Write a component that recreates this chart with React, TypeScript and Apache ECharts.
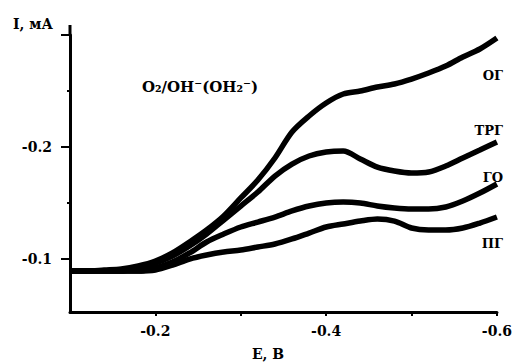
import React, { useEffect, useRef } from "react";
import * as echarts from "echarts";

// Potential E, V
const potentials = [
  -0.1, -0.12, -0.14, -0.16, -0.18, -0.2, -0.22, -0.24, -0.26, -0.28, -0.3, -0.32, -0.34,
  -0.36, -0.38, -0.4, -0.42, -0.44, -0.46, -0.48, -0.5, -0.52, -0.54, -0.56, -0.58, -0.6,
];
// Current I, mA
const seriesOG = [
  -0.0893, -0.0893, -0.0902, -0.0911, -0.0938, -0.0982, -0.1054, -0.1152, -0.1259, -0.1384,
  -0.1545, -0.1705, -0.1902, -0.2134, -0.2277, -0.2393, -0.2473, -0.25, -0.2536, -0.2563,
  -0.2607, -0.2661, -0.2723, -0.2804, -0.2875, -0.2973,
];
const seriesTRG = [
  -0.0893, -0.0893, -0.0893, -0.0893, -0.0929, -0.0964, -0.1027, -0.1116, -0.1223, -0.1348,
  -0.1473, -0.1598, -0.1741, -0.1848, -0.192, -0.1955, -0.1964, -0.1893, -0.1821, -0.1786,
  -0.1768, -0.1777, -0.183, -0.1902, -0.1973, -0.2045,
];
const seriesGO = [
  -0.0893, -0.0893, -0.0893, -0.0893, -0.0893, -0.092, -0.0973, -0.1054, -0.1152, -0.1223,
  -0.1286, -0.133, -0.1375, -0.1429, -0.1473, -0.15, -0.1509, -0.15, -0.1473, -0.1455,
  -0.1446, -0.1446, -0.1464, -0.1518, -0.1589, -0.167,
];
const seriesPG = [
  -0.0893, -0.0893, -0.0893, -0.0893, -0.0893, -0.0902, -0.0946, -0.1, -0.1036, -0.1063,
  -0.108, -0.1107, -0.1134, -0.1179, -0.1232, -0.1286, -0.1313, -0.1339, -0.1357, -0.1339,
  -0.1277, -0.1259, -0.1259, -0.1277, -0.1321, -0.1375,
];
const seriesNames = ["ОГ", "ТРГ", "ГО", "ПГ"];

const xTicks = [-0.2, -0.3, -0.4, -0.5, -0.6];
const xTickLabels = [-0.2, -0.4, -0.6];
const yMajorTicks = [-0.3, -0.2, -0.1];
const yMinorTicks = [-0.25, -0.15];
const yTickLabels = [-0.2, -0.1];

const X_MIN = -0.6;
const X_MAX = -0.1;
const Y_MIN = -0.3;
const Y_MAX = -0.0527;

const FONT = "DejaVu Serif";

export default function App() {
  const ref = useRef<HTMLDivElement>(null);

  useEffect(() => {
    if (!ref.current) return;
    const chart = echarts.init(ref.current, null, { renderer: "svg" });
    const all = [seriesOG, seriesTRG, seriesGO, seriesPG];
    const axisLine = { show: true, lineStyle: { color: "#000", width: 3 } };
    const labelStyle = {
      color: "#000",
      fontFamily: FONT,
      fontWeight: "bold" as const,
      fontSize: 14,
    };
    const fmt = (v: number) => v.toFixed(1);
    chart.setOption({
      animation: false,
      backgroundColor: "#fff",
      grid: { left: 70, right: 15, top: 35, bottom: 51, containLabel: false },
      xAxis: {
        type: "value",
        inverse: true,
        min: X_MIN,
        max: X_MAX,
        interval: 0.1,
        axisLine,
        splitLine: { show: false },
        axisTick: {
          show: true,
          length: 4,
          customValues: xTicks,
          lineStyle: { color: "#000", width: 2 },
        },
        axisLabel: { ...labelStyle, margin: 12, customValues: xTickLabels, formatter: fmt },
      },
      yAxis: [
        {
          type: "value",
          inverse: true,
          min: Y_MIN,
          max: Y_MAX,
          interval: 0.05,
          axisLine,
          splitLine: { show: false },
          axisTick: {
            show: true,
            length: 9,
            customValues: yMajorTicks,
            lineStyle: { color: "#000", width: 2 },
          },
          axisLabel: { ...labelStyle, margin: 18, customValues: yTickLabels, formatter: fmt },
        },
        {
          type: "value",
          inverse: true,
          position: "left",
          min: Y_MIN,
          max: Y_MAX,
          interval: 0.05,
          axisLine: { show: false },
          splitLine: { show: false },
          axisTick: {
            show: true,
            length: 3,
            customValues: yMinorTicks,
            lineStyle: { color: "#000", width: 2 },
          },
          axisLabel: { show: false },
        },
      ],
      series: all.map((vals, k) => ({
        type: "line",
        name: seriesNames[k],
        data: potentials.map((e, i) => [e, vals[i]]),
        smooth: 0.3,
        showSymbol: false,
        symbol: "none",
        lineStyle: { color: "#000", width: 5.5 },
        z: 3,
      })),
      graphic: [
        {
          type: "line",
          shape: { x1: 70, y1: 25, x2: 70, y2: 36 },
          style: { stroke: "#000", lineWidth: 3 },
        },
        {
          type: "text",
          x: 13,
          y: 24,
          style: {
            text: "I, мА",
            font: `bold 14px "${FONT}"`,
            fill: "#000",
            align: "left",
            verticalAlign: "middle",
          },
        },
        {
          type: "text",
          x: 268,
          y: 354,
          style: {
            text: "E, В",
            font: `bold 14px "${FONT}"`,
            fill: "#000",
            align: "center",
            verticalAlign: "middle",
          },
        },
        {
          type: "text",
          x: 200,
          y: 87,
          style: {
            text: "O₂/OH⁻(OH₂⁻)",
            font: `bold 15px "${FONT}"`,
            fill: "#000",
            align: "center",
            verticalAlign: "middle",
          },
        },
        ...[
          { t: seriesNames[0], y: 75 },
          { t: seriesNames[1], y: 130 },
          { t: seriesNames[2], y: 177 },
          { t: seriesNames[3], y: 243 },
        ].map((d) => ({
          type: "text",
          x: 503,
          y: d.y,
          style: {
            text: d.t,
            font: `bold 13px "${FONT}"`,
            fill: "#000",
            align: "right",
            verticalAlign: "middle",
          },
        })),
      ],
    });
    return () => chart.dispose();
  }, []);

  return (
    <div
      ref={ref}
      style={{ position: "absolute", left: 0, top: 0, width: 515, height: 363 }}
    />
  );
}
